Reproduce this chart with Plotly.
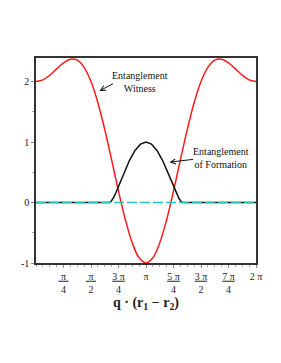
import plotly.graph_objects as go

# x positions in units of pi
witness_x = [k / 16 for k in range(33)]
witness_y = [2.000, 2.028, 2.105, 2.210, 2.311, 2.370, 2.354, 2.236, 2.000,
             1.650, 1.206, 0.704, 0.189, -0.284, -0.666, -0.914, -1.000,
             -0.914, -0.666, -0.284, 0.189, 0.704, 1.206, 1.650, 2.000,
             2.236, 2.354, 2.370, 2.311, 2.210, 2.105, 2.028, 2.000]

formation_x = [0.0, 0.6667, 0.6833, 0.7, 0.725, 0.75, 0.775, 0.8, 0.85, 0.9, 0.95, 1.0,
               1.05, 1.1, 1.15, 1.2, 1.225, 1.25, 1.275, 1.3, 1.3167, 1.3333, 2.0]
formation_y = [0.0, 0.0, 0.021, 0.066, 0.157, 0.264, 0.378, 0.491, 0.698, 0.861, 0.965, 1.0,
               0.965, 0.861, 0.698, 0.491, 0.378, 0.264, 0.157, 0.066, 0.021, 0.0, 0.0]

zero_x = [0.0, 2.0]
zero_y = [0.0, 0.0]

x_tickvals = [0.25, 0.5, 0.75, 1.0, 1.25, 1.5, 1.75, 2.0]
x_ticktext = ["<u>\u00a0π\u00a0</u><br>4", "<u>\u00a0π\u00a0</u><br>2", "<u>3 π</u><br>4", "π",
              "<u>5 π</u><br>4", "<u>3 π</u><br>2", "<u>7 π</u><br>4", "2 π"]
y_tickvals = [-1, 0, 1, 2]
y_ticktext = ["-1", "0", "1", "2"]

serif = "Liberation Serif, Times New Roman, serif"

fig = go.Figure()
fig.add_trace(go.Scatter(x=witness_x, y=witness_y, mode="lines",
                         line=dict(color="#ff1a1a", width=1.5, shape="spline", smoothing=1.0),
                         showlegend=False))
fig.add_trace(go.Scatter(x=formation_x, y=formation_y, mode="lines",
                         line=dict(color="#111111", width=1.5),
                         showlegend=False))
fig.add_trace(go.Scatter(x=zero_x, y=zero_y, mode="lines",
                         line=dict(color="#22c4c4", width=1.5, dash="10px,3px"),
                         showlegend=False))

label_font = dict(family=serif, size=10, color="#111")
# labels
fig.add_annotation(x=0.941, y=1.99, xref="x", yref="y", text="Entanglement<br>Witness",
                   showarrow=False, font=label_font, align="center")
fig.add_annotation(x=1.684, y=0.742, xref="x", yref="y", text="Entanglement<br>of Formation",
                   showarrow=False, font=label_font, align="center")
# arrows
fig.add_annotation(x=0.577, y=1.846, xref="x", yref="y", text="", showarrow=True,
                   arrowhead=5, arrowsize=1, arrowwidth=1, arrowcolor="#111",
                   ax=15, ay=-8, standoff=0)
fig.add_annotation(x=1.2136, y=0.667, xref="x", yref="y", text="", showarrow=True,
                   arrowhead=5, arrowsize=1, arrowwidth=1, arrowcolor="#111",
                   ax=25, ay=-3, standoff=0)

fig.update_layout(
    width=273, height=355,
    margin=dict(l=28, r=25, t=50, b=100),
    paper_bgcolor="white", plot_bgcolor="white",
    font=dict(family=serif, size=10, color="#222"),
    xaxis=dict(range=[0, 2], tickvals=x_tickvals, ticktext=x_ticktext,
               showgrid=False, zeroline=False, showline=True, mirror=True,
               linecolor="#333", linewidth=1.5, ticks="outside", ticklen=3,
               tickcolor="#888", tickfont=dict(family=serif, size=10, color="#222"),
               minor=dict(dtick=1/16, ticks="outside", ticklen=2, tickcolor="#aaa", showgrid=False),
               title=dict(text="<b>q · (r<sub>1</sub> − r<sub>2</sub>)</b>",
                          font=dict(family=serif, size=14, color="#222"), standoff=1)),
    yaxis=dict(range=[-1.0, 2.39], tickvals=y_tickvals, ticktext=y_ticktext,
               showgrid=False, zeroline=False, showline=True, mirror=True,
               linecolor="#333", linewidth=1.5, ticks="outside", ticklen=3,
               tickcolor="#888", tickfont=dict(family=serif, size=10, color="#222"),
               minor=dict(dtick=0.5, ticks="outside", ticklen=2, tickcolor="#aaa", showgrid=False)),
)

fig.write_html("out.html")
